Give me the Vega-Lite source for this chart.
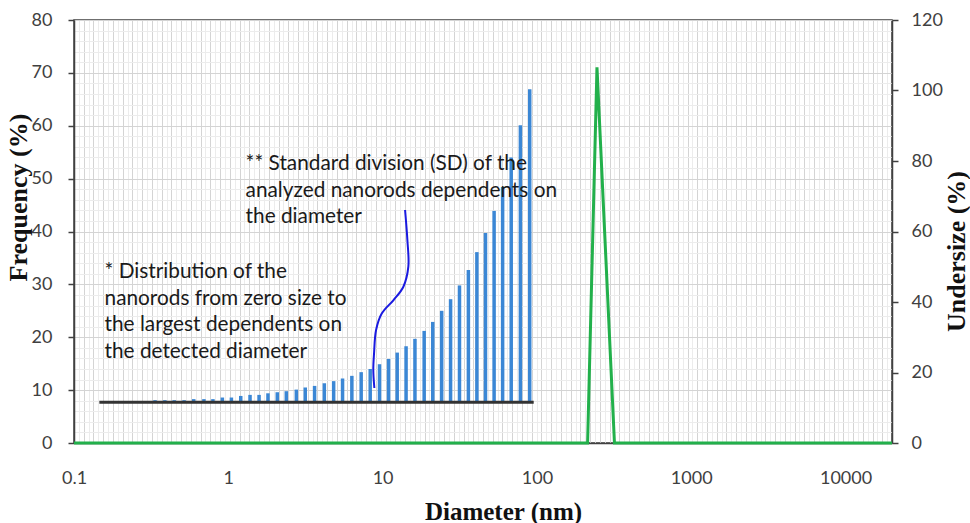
{
  "$schema": "https://vega.github.io/schema/vega-lite/v6.json",
  "width": 818,
  "height": 423,
  "autosize": "none",
  "padding": {"left": 74, "top": 20, "right": 78, "bottom": 80},
  "background": "white",
  "view": {"stroke": "#404040", "strokeWidth": 1.5},
  "config": {
    "axis": {
      "labelFont": "Lato",
      "labelFontSize": 18,
      "labelColor": "#404040",
      "titleFont": "Liberation Serif",
      "titleFontWeight": "bold",
      "titleFontSize": 25,
      "titleColor": "#111111"
    }
  },
  "resolve": {"scale": {"x": "independent", "y": "independent"}},
  "layer": [
    {
      "data": {"values": [{"g": 0}]},
      "mark": {"type": "point", "opacity": 0},
      "encoding": {
        "x": {
          "field": "g",
          "type": "quantitative",
          "scale": {"domain": [0, 168], "nice": false, "zero": false},
          "axis": {
            "orient": "top",
            "tickCount": 168,
            "labels": false,
            "ticks": false,
            "domain": false,
            "title": null,
            "grid": true,
            "gridWidth": 1,
            "gridColor": {"condition": {"test": "datum.value % 2 === 0", "value": "#d4d4d4"}, "value": "#ececec"}
          }
        }
      }
    },
    {
      "encoding": {
        "x": {
          "field": "d",
          "type": "quantitative",
          "scale": {"type": "log", "domain": [0.1, 20000], "nice": false},
          "axis": {
            "orient": "bottom",
            "values": [0.1, 1, 10, 100, 1000, 10000],
            "format": "~r",
            "ticks": false,
            "tickSize": 0,
            "labelPadding": 26,
            "labelFlush": false,
            "domain": true,
            "domainColor": "#404040",
            "domainWidth": 1.5,
            "grid": false,
            "title": "Diameter (nm)",
            "titleX": 429,
            "titleY": 76,
            "titleAlign": "center",
            "titleBaseline": "alphabetic"
          }
        }
      },
      "resolve": {"scale": {"y": "independent"}},
      "layer": [
        {
          "data": {
            "values": [
              {"d": 0.335, "v": 8.1}, {"d": 0.388, "v": 8.1}, {"d": 0.446, "v": 8.1}, {"d": 0.517, "v": 8.1},
              {"d": 0.597, "v": 8.3}, {"d": 0.695, "v": 8.3}, {"d": 0.795, "v": 8.3}, {"d": 0.915, "v": 8.6},
              {"d": 1.047, "v": 8.6}, {"d": 1.204, "v": 8.9}, {"d": 1.383, "v": 9.1}, {"d": 1.582, "v": 9.1},
              {"d": 1.807, "v": 9.4}, {"d": 2.077, "v": 9.6}, {"d": 2.376, "v": 9.8}, {"d": 2.76, "v": 10.1},
              {"d": 3.153, "v": 10.5}, {"d": 3.623, "v": 10.8}, {"d": 4.19, "v": 11.3}, {"d": 4.816, "v": 11.7},
              {"d": 5.5, "v": 12.2}, {"d": 6.319, "v": 12.7}, {"d": 7.261, "v": 13.4}, {"d": 8.31, "v": 14.0},
              {"d": 9.548, "v": 14.9}, {"d": 10.93, "v": 15.9}, {"d": 12.43, "v": 17.1}, {"d": 14.19, "v": 18.3},
              {"d": 16.2, "v": 19.7}, {"d": 18.59, "v": 21.2}, {"d": 21.13, "v": 22.9}, {"d": 24.14, "v": 25.0},
              {"d": 27.57, "v": 27.2}, {"d": 31.49, "v": 29.8}, {"d": 35.96, "v": 32.7}, {"d": 40.82, "v": 36.1},
              {"d": 46.42, "v": 39.7}, {"d": 52.78, "v": 43.9}, {"d": 59.94, "v": 48.4}, {"d": 68.13, "v": 54.0},
              {"d": 78.15, "v": 60.1}, {"d": 89.79, "v": 66.9}
            ]
          },
          "mark": {"type": "rule", "strokeWidth": 3.5, "color": "#3b87d5"},
          "encoding": {
            "y": {
              "field": "v",
              "type": "quantitative",
              "scale": {"domain": [0, 80], "nice": false},
              "axis": {
                "orient": "left",
                "values": [0, 2, 4, 6, 8, 10, 12, 14, 16, 18, 20, 22, 24, 26, 28, 30, 32, 34, 36, 38, 40, 42, 44, 46, 48, 50, 52, 54, 56, 58, 60, 62, 64, 66, 68, 70, 72, 74, 76, 78, 80],
                "labelExpr": "datum.value % 10 === 0 ? datum.label : ''",
                "labelOverlap": false,
                "labelBound": false,
                "labelFlush": false,
                "tickSize": 6,
                "tickColor": "#404040",
                "tickWidth": 1.5,
                "tickOpacity": {"condition": {"test": "datum.value % 10 === 0", "value": 1}, "value": 0},
                "labelPadding": 16,
                "domainColor": "#404040",
                "domainWidth": 1.5,
                "grid": true,
                "gridWidth": 1,
                "gridColor": {"condition": {"test": "datum.value % 10 === 0", "value": "#d4d4d4"}, "value": "#ececec"},
                "title": "Frequency (%)",
                "titleFontSize": 26,
                "titleAngle": 270,
                "titleX": -56,
                "titleY": 177,
                "titleAlign": "center",
                "titleBaseline": "middle"
              }
            },
            "y2": {"datum": 7.7}
          }
        },
        {
          "data": {"values": [{"d": 0.146, "v": 7.7}, {"d": 95.3, "v": 7.7}]},
          "mark": {"type": "line", "color": "#333333", "strokeWidth": 3},
          "encoding": {
            "y": {"field": "v", "type": "quantitative", "scale": {"domain": [0, 80], "nice": false}, "axis": null}
          }
        },
        {
          "data": {
            "values": [
              {"i": 1, "d": 13.98, "v": 44.07},
              {"i": 2, "d": 14.47, "v": 38.39},
              {"i": 3, "d": 14.68, "v": 33.34},
              {"i": 4, "d": 13.63, "v": 29.56},
              {"i": 5, "d": 11.77, "v": 27.04},
              {"i": 6, "d": 9.89, "v": 24.53},
              {"i": 7, "d": 9.07, "v": 21.37},
              {"i": 8, "d": 8.8, "v": 16.96},
              {"i": 9, "d": 8.7, "v": 13.81},
              {"i": 10, "d": 8.84, "v": 10.4}
            ]
          },
          "mark": {"type": "line", "color": "#1a1ae0", "strokeWidth": 2, "interpolate": "catmull-rom"},
          "encoding": {
            "y": {"field": "v", "type": "quantitative", "scale": {"domain": [0, 80], "nice": false}, "axis": null},
            "order": {"field": "i", "type": "quantitative"}
          }
        },
        {
          "data": {
            "values": [
              {"d": 1.294, "v": 51.63, "t": "** Standard division (SD) of the\nanalyzed nanorods dependents on\nthe diameter"},
              {"d": 0.1577, "v": 31.15, "t": "* Distribution of the\nnanorods from zero size to\nthe largest dependents on\nthe detected diameter"}
            ]
          },
          "mark": {"type": "text", "align": "left", "baseline": "alphabetic", "lineBreak": "\n", "font": "Lato", "fontSize": 20.8, "lineHeight": 26.6, "color": "#1a1a1a"},
          "encoding": {
            "y": {"field": "v", "type": "quantitative", "scale": {"domain": [0, 80], "nice": false}, "axis": null},
            "text": {"field": "t", "type": "nominal"}
          }
        },
        {
          "data": {
            "values": [
              {"d": 0.1, "u": 0},
              {"d": 213, "u": 0},
              {"d": 245, "u": 106.6},
              {"d": 318, "u": 0},
              {"d": 20000, "u": 0}
            ]
          },
          "mark": {"type": "line", "color": "#22b04b", "strokeWidth": 3},
          "encoding": {
            "y": {
              "field": "u",
              "type": "quantitative",
              "scale": {"domain": [0, 120], "nice": false},
              "axis": {
                "orient": "right",
                "values": [0, 20, 40, 60, 80, 100, 120],
                "tickSize": 6,
                "tickColor": "#404040",
                "tickWidth": 1.5,
                "labelPadding": 13,
                "labelFlush": false,
                "domainColor": "#404040",
                "domainWidth": 1.5,
                "grid": false,
                "title": "Undersize (%)",
                "titleFontSize": 26,
                "titleAngle": 270,
                "titleX": 64,
                "titleY": 231,
                "titleAlign": "center",
                "titleBaseline": "middle"
              }
            }
          }
        }
      ]
    }
  ]
}
